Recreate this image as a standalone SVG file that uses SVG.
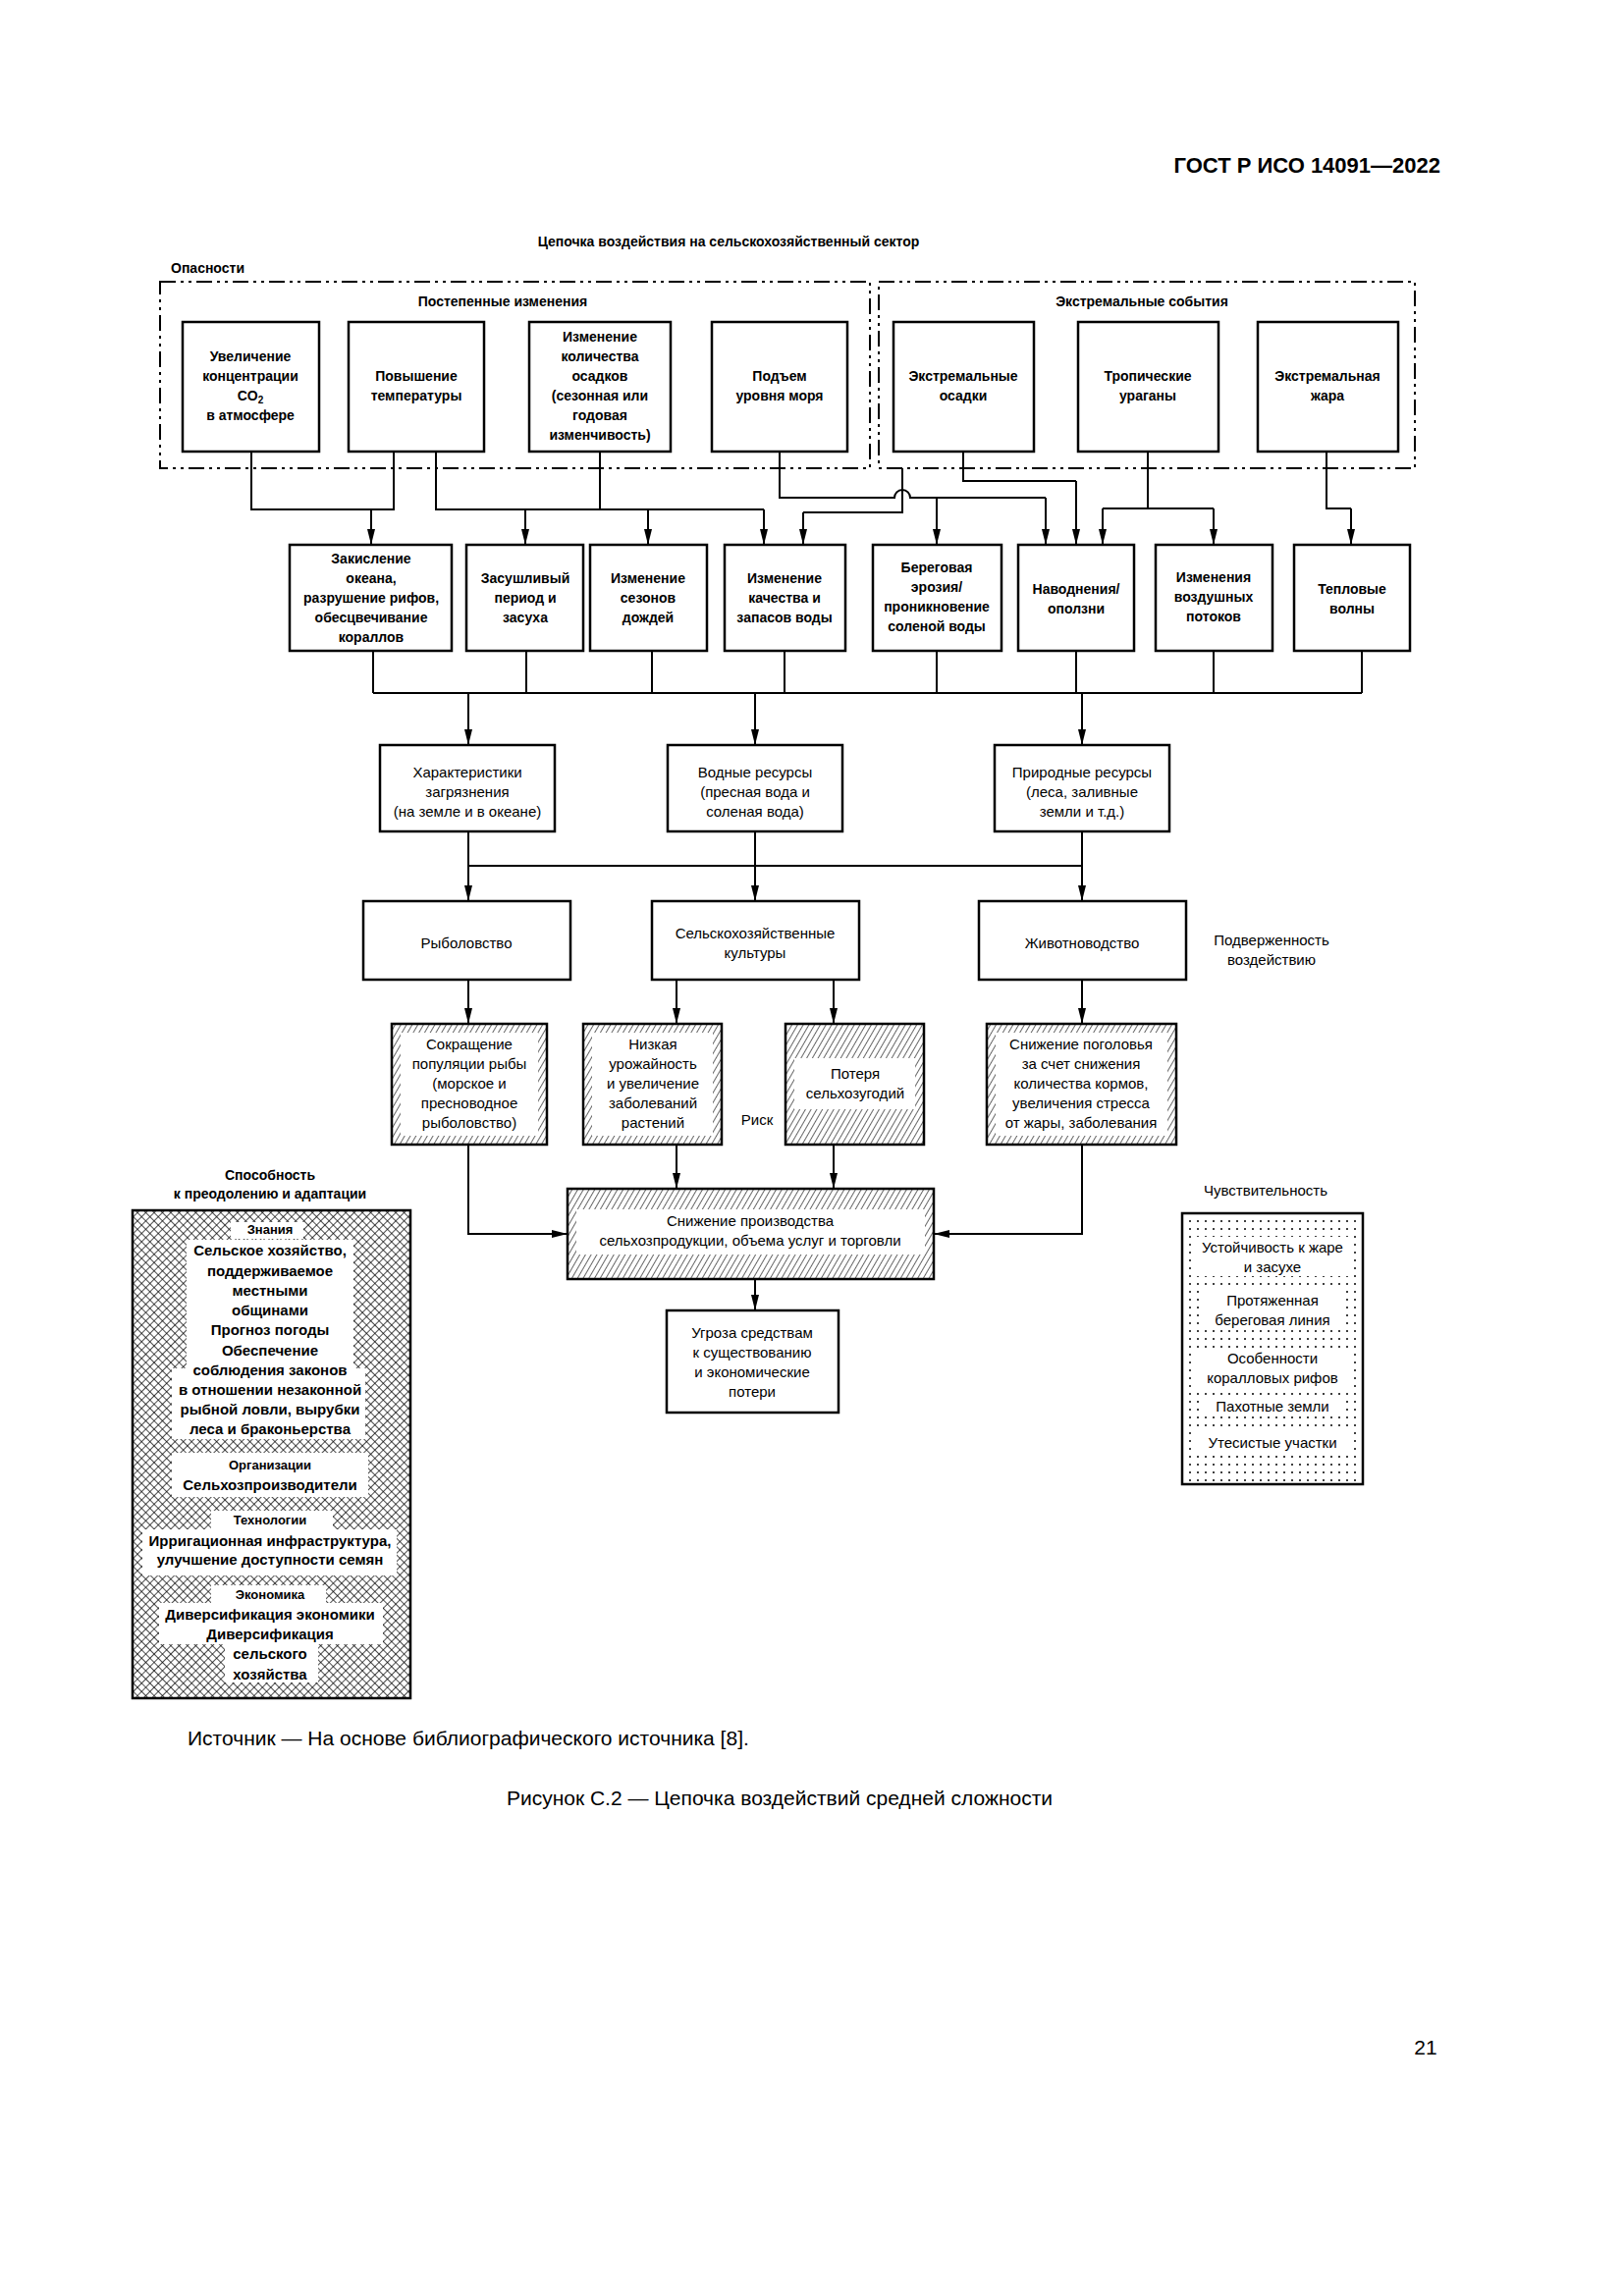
<svg xmlns="http://www.w3.org/2000/svg" width="1654" height="2339" viewBox="0 0 1654 2339">
<style>
text{font-family:"Liberation Sans",Arial,sans-serif;fill:#000;text-anchor:middle;dominant-baseline:central}
.b{font-weight:bold;font-size:14px}
.n{font-size:15px}
.box{fill:#fff;stroke:#000;stroke-width:2.5}
.dash{fill:none;stroke:#000;stroke-width:2;stroke-dasharray:16,5,3,5,3,5}
.c{fill:none;stroke:#000;stroke-width:2}
.a{fill:none;stroke:#000;stroke-width:2;marker-end:url(#ar)}
</style>
<defs>
<marker id="ar" viewBox="0 0 16 8" refX="16" refY="4" markerWidth="16" markerHeight="8" markerUnits="userSpaceOnUse" orient="auto">
<path d="M0,0 L16,4 L0,8 Z" fill="#000"/>
</marker>
<pattern id="hatch" width="5" height="5" patternUnits="userSpaceOnUse" patternTransform="rotate(30)">
<rect width="5" height="5" fill="#fff"/><line x1="0" y1="0" x2="0" y2="5" stroke="#000" stroke-width="1.2"/>
</pattern>
<pattern id="cross" width="6" height="6" patternUnits="userSpaceOnUse" patternTransform="rotate(45)">
<rect width="6" height="6" fill="#fff"/><line x1="0" y1="0" x2="0" y2="6" stroke="#000" stroke-width="1.4"/><line x1="0" y1="0" x2="6" y2="0" stroke="#000" stroke-width="1.4"/>
</pattern>
<pattern id="dots" width="8" height="8" patternUnits="userSpaceOnUse">
<rect width="8" height="8" fill="#fff"/><circle cx="4" cy="4" r="1" fill="#000"/>
</pattern>
</defs>
<rect width="1654" height="2339" fill="#fff"/>

<text x="1467" y="168" style="font-weight:bold;font-size:22px;text-anchor:end">ГОСТ Р ИСО 14091—2022</text>
<text x="742" y="246" class="b">Цепочка воздействия на сельскохозяйственный сектор</text>
<text x="174" y="273" class="b" style="text-anchor:start">Опасности</text>

<g id="hazard-groups">
<rect x="163" y="287" width="723" height="190" class="dash"/>
<rect x="895" y="287" width="546" height="190" class="dash"/>
<text x="512" y="307" class="b">Постепенные изменения</text>
<text x="1163" y="307" class="b">Экстремальные события</text>
</g>

<g id="connectors">
<polyline class="c" points="256,460 256,519 401,519 401,460"/>
<line class="a" x1="378" y1="519" x2="378" y2="555"/>
<polyline class="c" points="444,460 444,519 778,519"/>
<line class="c" x1="611" y1="460" x2="611" y2="519"/>
<line class="a" x1="535" y1="519" x2="535" y2="555"/>
<line class="a" x1="660" y1="519" x2="660" y2="555"/>
<line class="a" x1="778" y1="519" x2="778" y2="555"/>
<path class="c" d="M794,460 V507 H911 A8,8 0 0 1 927,507 H1065"/>
<line class="a" x1="1065" y1="507" x2="1065" y2="555"/>
<line class="a" x1="954" y1="507" x2="954" y2="555"/>
<polyline class="c" points="919,477 919,522 818,522"/>
<line class="a" x1="818" y1="522" x2="818" y2="555"/>
<polyline class="c" points="981,460 981,490 1096,490"/>
<line class="a" x1="1096" y1="490" x2="1096" y2="555"/>
<polyline class="c" points="1169,460 1169,518"/>
<line class="c" x1="1123" y1="518" x2="1236" y2="518"/>
<line class="a" x1="1123" y1="518" x2="1123" y2="555"/>
<line class="a" x1="1236" y1="518" x2="1236" y2="555"/>
<polyline class="c" points="1351,460 1351,518 1376,518"/>
<line class="a" x1="1376" y1="518" x2="1376" y2="555"/>

<line class="c" x1="380" y1="706" x2="1387" y2="706"/>
<line class="c" x1="380" y1="663" x2="380" y2="706"/>
<line class="c" x1="536" y1="663" x2="536" y2="706"/>
<line class="c" x1="664" y1="663" x2="664" y2="706"/>
<line class="c" x1="799" y1="663" x2="799" y2="706"/>
<line class="c" x1="954" y1="663" x2="954" y2="706"/>
<line class="c" x1="1096" y1="663" x2="1096" y2="706"/>
<line class="c" x1="1236" y1="663" x2="1236" y2="706"/>
<line class="c" x1="1387" y1="663" x2="1387" y2="706"/>
<line class="a" x1="477" y1="706" x2="477" y2="759"/>
<line class="a" x1="769" y1="706" x2="769" y2="759"/>
<line class="a" x1="1102" y1="706" x2="1102" y2="759"/>

<line class="c" x1="477" y1="847" x2="477" y2="882"/>
<line class="c" x1="769" y1="847" x2="769" y2="882"/>
<line class="c" x1="1102" y1="847" x2="1102" y2="882"/>
<line class="c" x1="477" y1="882" x2="1102" y2="882"/>
<line class="a" x1="477" y1="882" x2="477" y2="918"/>
<line class="a" x1="769" y1="882" x2="769" y2="918"/>
<line class="a" x1="1102" y1="882" x2="1102" y2="918"/>

<line class="a" x1="477" y1="998" x2="477" y2="1043"/>
<line class="a" x1="689" y1="998" x2="689" y2="1043"/>
<line class="a" x1="849" y1="998" x2="849" y2="1043"/>
<line class="a" x1="1102" y1="998" x2="1102" y2="1043"/>

<polyline class="a" points="477,1166 477,1257 578,1257"/>
<polyline class="a" points="1102,1166 1102,1257 951,1257"/>
<line class="a" x1="689" y1="1166" x2="689" y2="1211"/>
<line class="a" x1="849" y1="1166" x2="849" y2="1211"/>
<line class="a" x1="769" y1="1303" x2="769" y2="1335"/>
</g>

<g id="h1"><rect x="186" y="328" width="139" height="132" class="box"/>
<text class="b" x="255" y="363">Увеличение</text><text class="b" x="255" y="383">концентрации</text><text class="b" x="255" y="403">CO<tspan font-size="10" dy="4">2</tspan></text><text class="b" x="255" y="423">в атмосфере</text></g>
<g id="h2"><rect x="355" y="328" width="138" height="132" class="box"/>
<text class="b" x="424" y="383">Повышение</text><text class="b" x="424" y="403">температуры</text></g>
<g id="h3"><rect x="539" y="328" width="144" height="132" class="box"/>
<text class="b" x="611" y="343">Изменение</text><text class="b" x="611" y="363">количества</text><text class="b" x="611" y="383">осадков</text><text class="b" x="611" y="403">(сезонная или</text><text class="b" x="611" y="423">годовая</text><text class="b" x="611" y="443">изменчивость)</text></g>
<g id="h4"><rect x="725" y="328" width="138" height="132" class="box"/>
<text class="b" x="794" y="383">Подъем</text><text class="b" x="794" y="403">уровня моря</text></g>
<g id="h5"><rect x="910" y="328" width="143" height="132" class="box"/>
<text class="b" x="981" y="383">Экстремальные</text><text class="b" x="981" y="403">осадки</text></g>
<g id="h6"><rect x="1098" y="328" width="143" height="132" class="box"/>
<text class="b" x="1169" y="383">Тропические</text><text class="b" x="1169" y="403">ураганы</text></g>
<g id="h7"><rect x="1281" y="328" width="143" height="132" class="box"/>
<text class="b" x="1352" y="383">Экстремальная</text><text class="b" x="1352" y="403">жара</text></g>

<g id="i1"><rect x="295" y="555" width="165" height="108" class="box"/>
<text class="b" x="378" y="569">Закисление</text><text class="b" x="378" y="589">океана,</text><text class="b" x="378" y="609">разрушение рифов,</text><text class="b" x="378" y="629">обесцвечивание</text><text class="b" x="378" y="649">кораллов</text></g>
<g id="i2"><rect x="475" y="555" width="119" height="108" class="box"/>
<text class="b" x="535" y="589">Засушливый</text><text class="b" x="535" y="609">период и</text><text class="b" x="535" y="629">засуха</text></g>
<g id="i3"><rect x="601" y="555" width="119" height="108" class="box"/>
<text class="b" x="660" y="589">Изменение</text><text class="b" x="660" y="609">сезонов</text><text class="b" x="660" y="629">дождей</text></g>
<g id="i4"><rect x="738" y="555" width="123" height="108" class="box"/>
<text class="b" x="799" y="589">Изменение</text><text class="b" x="799" y="609">качества и</text><text class="b" x="799" y="629">запасов воды</text></g>
<g id="i5"><rect x="889" y="555" width="131" height="108" class="box"/>
<text class="b" x="954" y="578">Береговая</text><text class="b" x="954" y="598">эрозия/</text><text class="b" x="954" y="618">проникновение</text><text class="b" x="954" y="638">соленой воды</text></g>
<g id="i6"><rect x="1037" y="555" width="118" height="108" class="box"/>
<text class="b" x="1096" y="600">Наводнения/</text><text class="b" x="1096" y="620">оползни</text></g>
<g id="i7"><rect x="1177" y="555" width="119" height="108" class="box"/>
<text class="b" x="1236" y="588">Изменения</text><text class="b" x="1236" y="608">воздушных</text><text class="b" x="1236" y="628">потоков</text></g>
<g id="i8"><rect x="1318" y="555" width="118" height="108" class="box"/>
<text class="b" x="1377" y="600">Тепловые</text><text class="b" x="1377" y="620">волны</text></g>

<g id="r1"><rect x="387" y="759" width="178" height="88" class="box"/>
<text class="n" x="476" y="786">Характеристики</text><text class="n" x="476" y="806">загрязнения</text><text class="n" x="476" y="826">(на земле и в океане)</text></g>
<g id="r2"><rect x="680" y="759" width="178" height="88" class="box"/>
<text class="n" x="769" y="786">Водные ресурсы</text><text class="n" x="769" y="806">(пресная вода и</text><text class="n" x="769" y="826">соленая вода)</text></g>
<g id="r3"><rect x="1013" y="759" width="178" height="88" class="box"/>
<text class="n" x="1102" y="786">Природные ресурсы</text><text class="n" x="1102" y="806">(леса, заливные</text><text class="n" x="1102" y="826">земли и т.д.)</text></g>

<g id="s1"><rect x="370" y="918" width="211" height="80" class="box"/>
<text class="n" x="475" y="960">Рыболовство</text></g>
<g id="s2"><rect x="664" y="918" width="211" height="80" class="box"/>
<text class="n" x="769" y="950">Сельскохозяйственные</text><text class="n" x="769" y="970">культуры</text></g>
<g id="s3"><rect x="997" y="918" width="211" height="80" class="box"/>
<text class="n" x="1102" y="960">Животноводство</text></g>
<text class="n" x="1295" y="957">Подверженность</text>
<text class="n" x="1295" y="977">воздействию</text>

<g id="k1"><rect x="399" y="1043" width="158" height="123" fill="url(#hatch)" stroke="#000" stroke-width="2.5"/>
<rect x="408" y="1052" width="140" height="105" fill="#fff"/>
<text class="n" x="478" y="1063">Сокращение</text><text class="n" x="478" y="1083">популяции рыбы</text><text class="n" x="478" y="1103">(морское и</text><text class="n" x="478" y="1123">пресноводное</text><text class="n" x="478" y="1143">рыболовство)</text></g>
<g id="k2"><rect x="594" y="1043" width="141" height="123" fill="url(#hatch)" stroke="#000" stroke-width="2.5"/>
<rect x="603" y="1052" width="123" height="105" fill="#fff"/>
<text class="n" x="665" y="1063">Низкая</text><text class="n" x="665" y="1083">урожайность</text><text class="n" x="665" y="1103">и увеличение</text><text class="n" x="665" y="1123">заболеваний</text><text class="n" x="665" y="1143">растений</text></g>
<text class="n" x="771" y="1140">Риск</text>
<g id="k3"><rect x="800" y="1043" width="141" height="123" fill="url(#hatch)" stroke="#000" stroke-width="2.5"/>
<rect x="809" y="1078" width="123" height="52" fill="#fff"/>
<text class="n" x="871" y="1093">Потеря</text><text class="n" x="871" y="1113">сельхозугодий</text></g>
<g id="k4"><rect x="1005" y="1043" width="193" height="123" fill="url(#hatch)" stroke="#000" stroke-width="2.5"/>
<rect x="1014" y="1052" width="175" height="105" fill="#fff"/>
<text class="n" x="1101" y="1063">Снижение поголовья</text><text class="n" x="1101" y="1083">за счет снижения</text><text class="n" x="1101" y="1103">количества кормов,</text><text class="n" x="1101" y="1123">увеличения стресса</text><text class="n" x="1101" y="1143">от жары, заболевания</text></g>

<g id="p1"><rect x="578" y="1211" width="373" height="92" fill="url(#hatch)" stroke="#000" stroke-width="2.5"/>
<rect x="587" y="1232" width="355" height="46" fill="#fff"/>
<text class="n" x="764" y="1243">Снижение производства</text><text class="n" x="764" y="1263">сельхозпродукции, объема услуг и торговли</text></g>
<g id="p2"><rect x="679" y="1335" width="175" height="104" class="box"/>
<text class="n" x="766" y="1357">Угроза средствам</text><text class="n" x="766" y="1377">к существованию</text><text class="n" x="766" y="1397">и экономические</text><text class="n" x="766" y="1417">потери</text></g>

<g id="sens">
<text class="n" x="1289" y="1212">Чувствительность</text>
<rect x="1204" y="1236" width="184" height="276" fill="url(#dots)" stroke="#000" stroke-width="2.5"/>
<rect x="1213" y="1260" width="166" height="40" fill="#fff"/>
<rect x="1223" y="1314" width="146" height="40" fill="#fff"/>
<rect x="1213" y="1373" width="166" height="40" fill="#fff"/>
<rect x="1223" y="1422" width="146" height="20" fill="#fff"/>
<rect x="1218" y="1459" width="156" height="20" fill="#fff"/>
<text class="n" x="1296" y="1270">Устойчивость к жаре</text><text class="n" x="1296" y="1290">и засухе</text>
<text class="n" x="1296" y="1324">Протяженная</text><text class="n" x="1296" y="1344">береговая линия</text>
<text class="n" x="1296" y="1383">Особенности</text><text class="n" x="1296" y="1403">коралловых рифов</text>
<text class="n" x="1296" y="1432">Пахотные земли</text>
<text class="n" x="1296" y="1469">Утесистые участки</text>
</g>

<g id="adapt">
<text class="b" x="275" y="1197">Способность</text>
<text class="b" x="275" y="1216">к преодолению и адаптации</text>
<rect x="135" y="1233" width="283" height="497" fill="url(#cross)" stroke="#000" stroke-width="2.5"/>
<rect x="235" y="1245" width="74" height="17" fill="#fff"/>
<rect x="190" y="1263" width="170" height="131" fill="#fff"/>
<rect x="175" y="1394" width="197" height="72" fill="#fff"/>
<rect x="175" y="1480" width="200" height="45" fill="#fff"/>
<rect x="215" y="1539" width="124" height="19" fill="#fff"/>
<rect x="145" y="1558" width="259" height="47" fill="#fff"/>
<rect x="215" y="1615" width="117" height="18" fill="#fff"/>
<rect x="162" y="1633" width="228" height="42" fill="#fff"/>
<rect x="229" y="1675" width="95" height="39" fill="#fff"/>
<g style="font-size:15px">
<text class="b" x="275" y="1252" style="font-size:13px">Знания</text>
<text class="b" x="275" y="1273" style="font-size:15px">Сельское хозяйство,</text>
<text class="b" x="275" y="1294" style="font-size:15px">поддерживаемое</text>
<text class="b" x="275" y="1314" style="font-size:15px">местными</text>
<text class="b" x="275" y="1334" style="font-size:15px">общинами</text>
<text class="b" x="275" y="1354" style="font-size:15px">Прогноз погоды</text>
<text class="b" x="275" y="1375" style="font-size:15px">Обеспечение</text>
<text class="b" x="275" y="1395" style="font-size:15px">соблюдения законов</text>
<text class="b" x="275" y="1415" style="font-size:15px">в отношении незаконной</text>
<text class="b" x="275" y="1435" style="font-size:15px">рыбной ловли, вырубки</text>
<text class="b" x="275" y="1455" style="font-size:15px">леса и браконьерства</text>
<text class="b" x="275" y="1492" style="font-size:13px">Организации</text>
<text class="b" x="275" y="1512" style="font-size:15px">Сельхозпроизводители</text>
<text class="b" x="275" y="1548" style="font-size:13px">Технологии</text>
<text class="b" x="275" y="1569" style="font-size:15px">Ирригационная инфраструктура,</text>
<text class="b" x="275" y="1588" style="font-size:15px">улучшение доступности семян</text>
<text class="b" x="275" y="1624" style="font-size:13px">Экономика</text>
<text class="b" x="275" y="1644" style="font-size:15px">Диверсификация экономики</text>
<text class="b" x="275" y="1664" style="font-size:15px">Диверсификация</text>
<text class="b" x="275" y="1684" style="font-size:15px">сельского</text>
<text class="b" x="275" y="1705" style="font-size:15px">хозяйства</text>
</g>
</g>

<text x="191" y="1770" style="font-size:21px;text-anchor:start">Источник — На основе библиографического источника [8].</text>
<text x="794" y="1831" style="font-size:21px">Рисунок С.2 — Цепочка воздействий средней сложности</text>
<text x="1452" y="2085" style="font-size:21px">21</text>
</svg>
